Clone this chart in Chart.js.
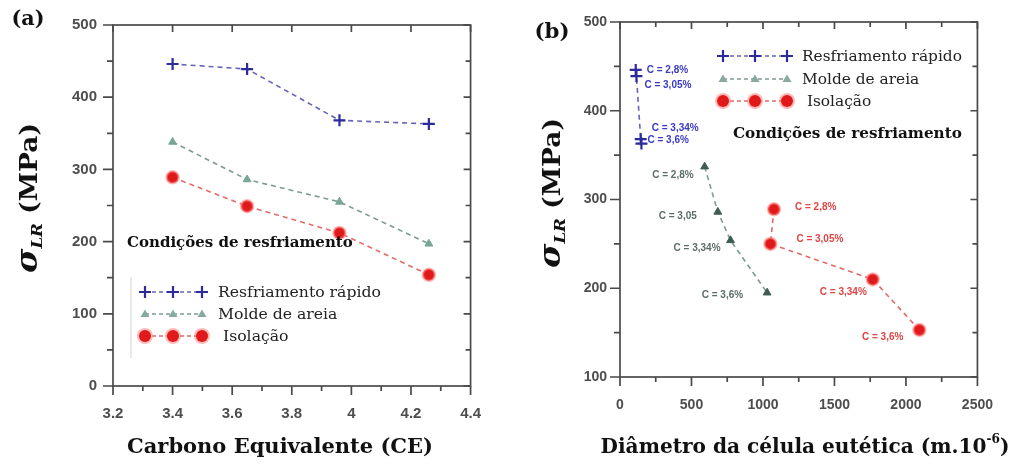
<!DOCTYPE html>
<html><head><meta charset="utf-8">
<script src="https://cdn.jsdelivr.net/npm/chart.js@4.4.1/dist/chart.umd.min.js"></script>
<style>
html,body{margin:0;padding:0;background:#fff;width:1013px;height:465px;overflow:hidden}
#a{position:absolute;left:0;top:0;width:500px;height:465px}
#b{position:absolute;left:500px;top:0;width:513px;height:465px}
</style></head><body>
<div id="a"><canvas id="ca" width="500" height="465"></canvas></div>
<div id="b"><canvas id="cb" width="513" height="465"></canvas></div>
<script>
// ---------- data ----------
const seriesNames = ['Resfriamento rápido', 'Molde de areia', 'Isolação'];
const legendTitle = 'Condições de resfriamento';
// panel (a): sigma vs carbon equivalent
const ceValues = [3.4, 3.65, 3.96, 4.26];
const sigmaRapido = [446, 439, 368, 363];
const sigmaAreia = [338, 286, 255, 197];
const sigmaIsolacao = [289, 249, 212, 154];
// panel (b): sigma vs eutectic cell diameter
const diamRapido = [110, 115, 145, 150];
const sigmaRapidoB = [446, 439, 368, 363];
const diamAreia = [592, 684, 773, 1029];
const sigmaAreiaB = [337, 286, 254, 195];
const diamIsolacao = [1077, 1052, 1768, 2094];
const sigmaIsolacaoB = [289, 250, 210, 153];
const labelsRapido = ['C = 2,8%', 'C = 3,05%', 'C = 3,34%', 'C = 3,6%'];
const labelsAreia = ['C = 2,8%', 'C = 3,05', 'C = 3,34%', 'C = 3,6%'];
const labelsIsolacao = ['C = 2,8%', 'C = 3,05%', 'C = 3,34%', 'C = 3,6%'];
// ticks
const xTicksA = [3.2, 3.4, 3.6, 3.8, 4, 4.2, 4.4];
const yTicksA = [0, 100, 200, 300, 400, 500];
const xTicksB = [0, 500, 1000, 1500, 2000, 2500];
const yTicksB = [100, 200, 300, 400, 500];

// ---------- styles ----------
const BLUE = '#2b2b9c', BLUE_LINE = '#6565b5';
const GREEN_A = '#78a596', GREEN_B = '#3e5c53', GREEN_LINE = '#7e9a92', GREEN_LEG = '#86aaa2';
const RED = '#e01a1a', RED_LINE = '#e46a6a', RED_HALO = 'rgba(255,130,130,0.55)';
const SERIF = '"DejaVu Serif", "Liberation Serif", serif';
const SANS = '"Liberation Sans", Arial, sans-serif';
// annotation offsets (px) for panel (b): [dx, dy, align]
const annOffsets = [
  [[11, 0, 'left'], [8, 9, 'left'], [11, -11, 'left'], [6, -3, 'left']],
  [[-11, 9, 'right'], [-21, 4, 'right'], [-10, 8, 'right'], [-24, 3, 'right']],
  [[21, -2, 'left'], [26, -5, 'left'], [-6, 13, 'right'], [-16, 7, 'right']]
];
const annColors = ['#3a3ac4', '#5d6d68', '#e04545'];

function pts(xs, ys) { return xs.map((x, i) => ({ x: x, y: ys[i] })); }

function dsRapido(xs, ys) {
  return { label: seriesNames[0], data: pts(xs, ys), showLine: true, borderColor: BLUE_LINE, borderDash: [5, 4], borderWidth: 1.6,
    pointStyle: 'cross', pointRadius: 6, pointBorderColor: BLUE, pointBackgroundColor: BLUE, pointBorderWidth: 2.2 };
}
function dsAreia(xs, ys, col) {
  return { label: seriesNames[1], data: pts(xs, ys), showLine: true, borderColor: GREEN_LINE, borderDash: [5, 4], borderWidth: 1.6,
    pointStyle: 'triangle', pointRadius: 4.5, pointBorderColor: col, pointBackgroundColor: col, pointBorderWidth: 1 };
}
function dsIso(xs, ys) {
  return { label: seriesNames[2], data: pts(xs, ys), showLine: true, borderColor: RED_LINE, borderDash: [5, 4], borderWidth: 1.6,
    pointStyle: 'circle', pointRadius: 6, pointBorderColor: RED_HALO, pointBackgroundColor: RED, pointBorderWidth: 2.5 };
}

function fitFont(ctx, text, weight, family, target) {
  ctx.font = weight + ' 100px ' + family;
  const w = ctx.measureText(text).width;
  const s = 100 * target / w;
  ctx.font = weight + ' ' + s.toFixed(2) + 'px ' + family;
  return s;
}

function drawFrame(chart, xt, yt, topMinor) {
  const ctx = chart.ctx, a = chart.chartArea, x = chart.scales.x, y = chart.scales.y;
  ctx.save();
  ctx.strokeStyle = '#4a4a4a'; ctx.lineWidth = 1.7;
  ctx.strokeRect(a.left, a.top, a.right - a.left, a.bottom - a.top);
  ctx.beginPath();
  xt.forEach((v, i) => {
    const p = x.getPixelForValue(v);
    ctx.moveTo(p, a.bottom); ctx.lineTo(p, a.bottom + 9);
    ctx.moveTo(p, a.top); ctx.lineTo(p, a.top + 7);
    if (i < xt.length - 1) {
      const m = x.getPixelForValue((v + xt[i + 1]) / 2);
      ctx.moveTo(m, a.bottom); ctx.lineTo(m, a.bottom + 5);
      if (topMinor) { ctx.moveTo(m, a.top); ctx.lineTo(m, a.top + 5); }
    }
  });
  yt.forEach((v, i) => {
    const p = y.getPixelForValue(v);
    ctx.moveTo(a.left, p); ctx.lineTo(a.left - 10, p);
    ctx.moveTo(a.right, p); ctx.lineTo(a.right - 7, p);
    if (i < yt.length - 1) {
      const m = y.getPixelForValue((v + yt[i + 1]) / 2);
      ctx.moveTo(a.left, m); ctx.lineTo(a.left - 6, m);
      ctx.moveTo(a.right, m); ctx.lineTo(a.right - 5, m);
    }
  });
  ctx.stroke();
  ctx.restore();
}

function drawYTitle(ctx, cx, cy) {
  ctx.save();
  ctx.translate(cx, cy); ctx.rotate(-Math.PI / 2);
  ctx.fillStyle = '#111';
  const f1 = 'italic bold 30px ' + SERIF, f2 = 'italic bold 15px ' + SERIF, f3 = 'bold 24px ' + SERIF;
  ctx.font = f1; const w1 = ctx.measureText('σ').width;
  ctx.font = f2; const w2 = ctx.measureText('LR').width;
  ctx.font = f3; const w3 = ctx.measureText(' (MPa)').width;
  const total = w1 + w2 + w3;
  const sc = 150 / total;
  ctx.scale(sc, 1);
  let x0 = -total / 2;
  ctx.textBaseline = 'alphabetic'; ctx.textAlign = 'left';
  ctx.font = f1; ctx.fillText('σ', x0, 9); x0 += w1;
  ctx.font = f2; ctx.fillText('LR', x0, 14); x0 += w2;
  ctx.font = f3; ctx.fillText(' (MPa)', x0, 9);
  ctx.restore();
}

function drawMarker(ctx, kind, x, y) {
  ctx.save();
  if (kind === 0) {
    ctx.strokeStyle = BLUE; ctx.lineWidth = 2.2;
    ctx.beginPath(); ctx.moveTo(x - 6, y); ctx.lineTo(x + 6, y); ctx.moveTo(x, y - 6); ctx.lineTo(x, y + 6); ctx.stroke();
  } else if (kind === 1) {
    ctx.fillStyle = GREEN_LEG;
    ctx.beginPath(); ctx.moveTo(x, y - 4.5); ctx.lineTo(x + 4.5, y + 3); ctx.lineTo(x - 4.5, y + 3); ctx.closePath(); ctx.fill();
  } else {
    ctx.fillStyle = RED_HALO; ctx.beginPath(); ctx.arc(x, y, 8, 0, Math.PI * 2); ctx.fill();
    ctx.fillStyle = RED; ctx.beginPath(); ctx.arc(x, y, 6, 0, Math.PI * 2); ctx.fill();
  }
  ctx.restore();
}

function drawLegend(ctx, xs, ys, textX, textW) {
  const lineCols = [BLUE_LINE, GREEN_LINE, RED_LINE];
  fitFont(ctx, seriesNames[0], 'normal', SERIF, textW);
  const font = ctx.font;
  for (let k = 0; k < 3; k++) {
    ctx.save();
    ctx.strokeStyle = lineCols[k]; ctx.lineWidth = 1.5; ctx.setLineDash([4, 3]);
    ctx.beginPath(); ctx.moveTo(xs[0], ys[k]); ctx.lineTo(xs[2], ys[k]); ctx.stroke();
    ctx.restore();
    xs.forEach(x => drawMarker(ctx, k, x, ys[k]));
    ctx.save();
    ctx.font = font; ctx.fillStyle = '#222'; ctx.textAlign = 'left'; ctx.textBaseline = 'middle';
    ctx.fillText((k === 2 ? ' ' : '') + seriesNames[k], textX, ys[k] + 1);
    ctx.restore();
  }
}

function centerText(ctx, text, weight, family, target, cx, cy, color) {
  ctx.save();
  fitFont(ctx, text, weight, family, target);
  ctx.fillStyle = color || '#111'; ctx.textAlign = 'center'; ctx.textBaseline = 'middle';
  ctx.fillText(text, cx, cy);
  ctx.restore();
}
function leftText(ctx, text, weight, family, target, lx, cy, color) {
  ctx.save();
  fitFont(ctx, text, weight, family, target);
  ctx.fillStyle = color || '#111'; ctx.textAlign = 'left'; ctx.textBaseline = 'middle';
  ctx.fillText(text, lx, cy);
  ctx.restore();
}

function scaleOpts(min, max, ticksArr, padding, fontSize, fitDim, fitVal) {
  return {
    type: 'linear', min: min, max: max,
    afterBuildTicks: s => { s.ticks = ticksArr.map(v => ({ value: v })); },
    afterFit: s => { s[fitDim] = fitVal; },
    ticks: { autoSkip: false, maxRotation: 0, padding: padding, color: '#4d4d4d',
      font: { family: SANS, weight: 'bold', size: fontSize }, callback: v => String(v) },
    grid: { display: false, drawTicks: false },
    border: { display: false }
  };
}

function baseOptions(padding, xs, ys) {
  return {
    responsive: false, animation: false, devicePixelRatio: 1,
    layout: { padding: padding },
    plugins: { legend: { display: false }, tooltip: { enabled: false } },
    scales: { x: xs, y: ys }
  };
}

// ---------- chart (a) ----------
new Chart(document.getElementById('ca'), {
  type: 'scatter',
  data: { datasets: [dsRapido(ceValues, sigmaRapido), dsAreia(ceValues, sigmaAreia, GREEN_A), dsIso(ceValues, sigmaIsolacao)] },
  options: baseOptions({ left: 13, top: 24, right: 25, bottom: 0 },
    scaleOpts(3.2, 4.4, xTicksA, 19, 15, 'height', 79),
    scaleOpts(0, 500, yTicksA, 16, 15, 'width', 100)),
  plugins: [{
    id: 'decorA',
    beforeDatasetsDraw(chart) { drawFrame(chart, xTicksA, yTicksA, false); },
    afterDraw(chart) {
      const ctx = chart.ctx;
      centerText(ctx, '(a)', 'bold', SERIF, 33, 28, 20);
      drawYTitle(ctx, 28, 198);
      centerText(ctx, 'Carbono Equivalente (CE)', 'bold', SERIF, 306, 280, 448);
      leftText(ctx, legendTitle, 'bold', SERIF, 226, 127, 243);
      ctx.save(); ctx.strokeStyle = '#d0d0d0'; ctx.lineWidth = 1;
      ctx.beginPath(); ctx.moveTo(131, 277); ctx.lineTo(131, 358); ctx.stroke(); ctx.restore();
      drawLegend(ctx, [145, 173, 202], [292, 314, 336], 218, 163);
    }
  }]
});

// ---------- chart (b) ----------
const annLabels = [labelsRapido, labelsAreia, labelsIsolacao];
new Chart(document.getElementById('cb'), {
  type: 'scatter',
  data: { datasets: [dsRapido(diamRapido, sigmaRapidoB), dsAreia(diamAreia, sigmaAreiaB, GREEN_B), dsIso(diamIsolacao, sigmaIsolacaoB)] },
  options: baseOptions({ left: 40, top: 22, right: 31, bottom: 0 },
    scaleOpts(0, 2500, xTicksB, 20, 14, 'height', 88),
    scaleOpts(100, 500, yTicksB, 13, 14, 'width', 80)),
  plugins: [{
    id: 'decorB',
    beforeDatasetsDraw(chart) { drawFrame(chart, xTicksB, yTicksB, true); },
    afterDraw(chart) {
      const ctx = chart.ctx;
      centerText(ctx, '(b)', 'bold', SERIF, 35, 52, 32);
      drawYTitle(ctx, 51, 193);
      ctx.save();
      fitFont(ctx, 'Diâmetro da célula eutética (m.10', 'bold', SERIF, 386);
      const mainFont = ctx.font;
      const wMain = ctx.measureText('Diâmetro da célula eutética (m.10').width;
      const sz = parseFloat(mainFont.split(' ')[1]);
      const supFont = 'bold ' + (sz * 0.6).toFixed(1) + 'px ' + SERIF;
      ctx.font = supFont; const wSup = ctx.measureText('-6').width;
      ctx.font = mainFont; const wEnd = ctx.measureText(')').width;
      let x0 = 305 - (wMain + wSup + wEnd) / 2;
      ctx.fillStyle = '#111'; ctx.textBaseline = 'middle'; ctx.textAlign = 'left';
      ctx.fillText('Diâmetro da célula eutética (m.10', x0, 448); x0 += wMain;
      ctx.font = supFont; ctx.fillText('-6', x0, 440); x0 += wSup;
      ctx.font = mainFont; ctx.fillText(')', x0, 448);
      ctx.restore();
      drawLegend(ctx, [223, 255, 287], [56, 79, 101], 302, 160);
      leftText(ctx, legendTitle, 'bold', SERIF, 229, 233, 134);
      // point annotations
      ctx.save();
      ctx.font = 'bold 10px ' + SANS; ctx.textBaseline = 'middle';
      for (let d = 0; d < 3; d++) {
        const meta = chart.getDatasetMeta(d);
        ctx.fillStyle = annColors[d];
        meta.data.forEach((el, j) => {
          const o = annOffsets[d][j];
          ctx.textAlign = o[2];
          ctx.fillText(annLabels[d][j], el.x + o[0], el.y + o[1]);
        });
      }
      ctx.restore();
    }
  }]
});
</script>
</body></html>
